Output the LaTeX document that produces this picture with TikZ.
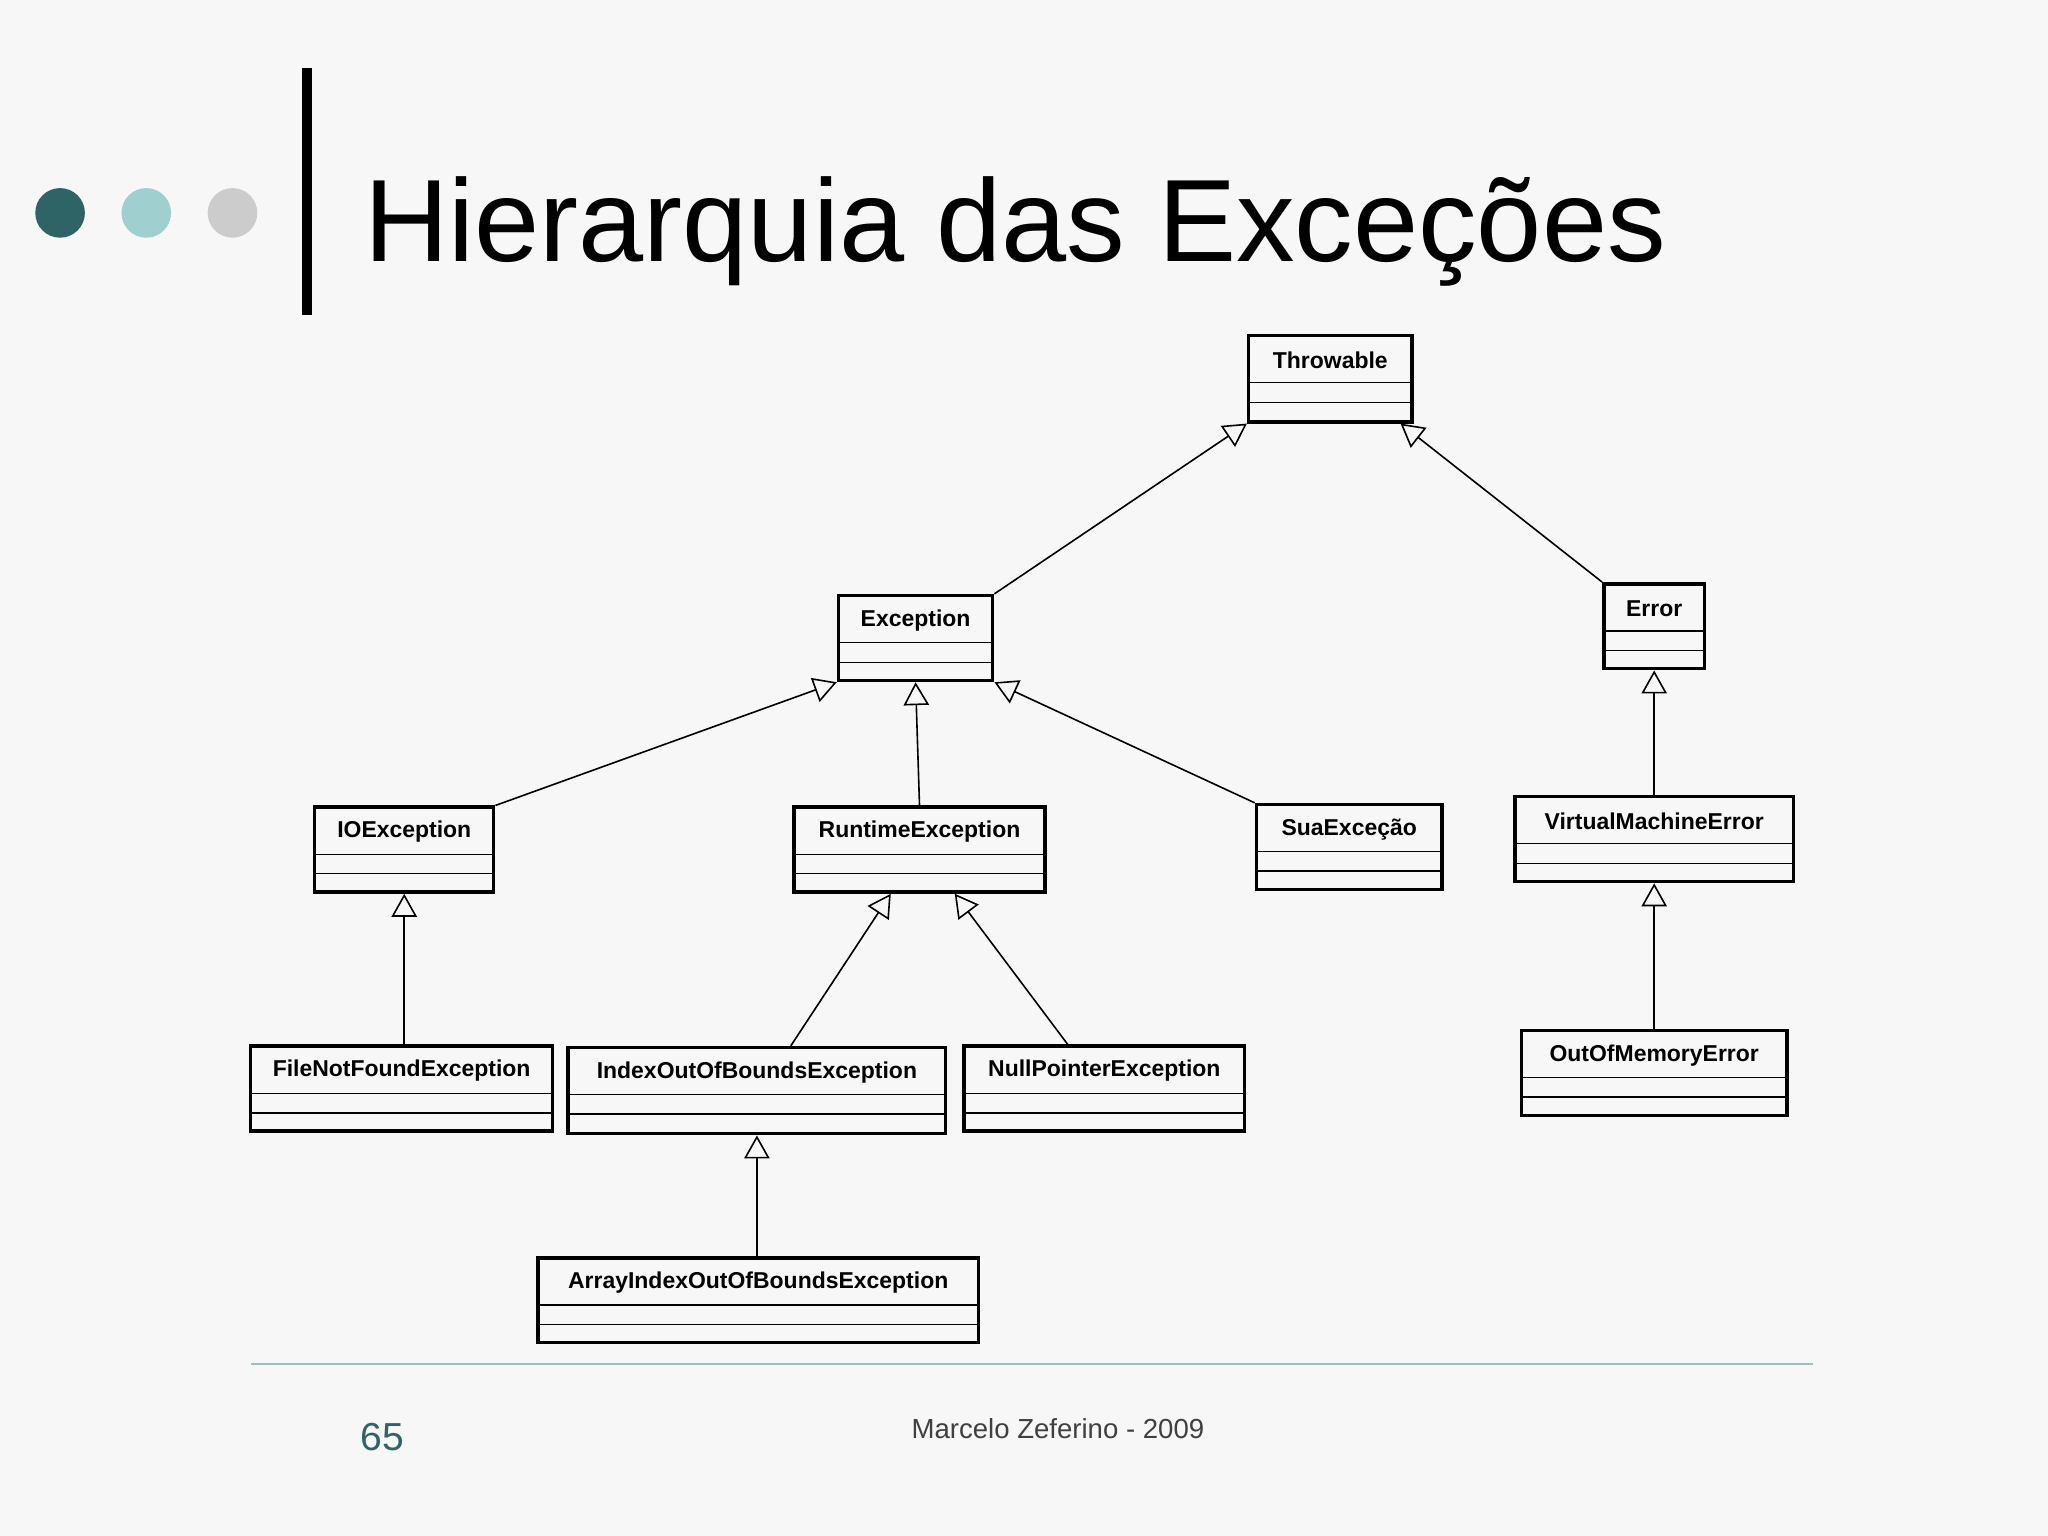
\documentclass[tikz,border=0pt]{standalone}
\usepackage{fontspec}
\setmainfont{Liberation Sans}
\usetikzlibrary{fit,calc,arrows.meta}
\definecolor{dteal}{HTML}{2F6466}
\definecolor{lteal}{HTML}{9FCFCF}
\definecolor{lgray}{HTML}{CCCCCC}
\definecolor{rulec}{HTML}{9DBFBF}
\newcommand\umlbox[6]{%
  \node[ubox, fit={(#2,#3)(#4,#5)}] (#1) {};
  \node[utext] (#1t) at ({(#2+#4)/2},{#3+19}) {#6};
  \draw[line width=0.3pt] (#2,{#3+36}) -- (#4,{#3+36});
  \draw[line width=0.3pt] (#2,{#3+51}) -- (#4,{#3+51});}
\begin{document}
\begin{tikzpicture}[x=0.01cm,y=-0.01cm,
  ubox/.style={draw,line width=0.75pt,inner sep=0pt},
  utext/.style={font=\bfseries\fontsize{5pt}{6pt}\selectfont,inner sep=0pt},
  gen/.style={line width=0.35pt,-{Triangle[open,length=5pt,width=5.5pt]}}]
\fill[white!97!black] (0,0) rectangle (1568,1176);
\useasboundingbox (0,0) rectangle (1568,1176);
\fill[dteal] (46,163) circle (19);
\fill[lteal] (112,163) circle (19);
\fill[lgray] (178,163) circle (19);
\draw[line width=2pt] (235,52) -- (235,241);
\node[anchor=base west,inner sep=0pt,font=\fontsize{25.5pt}{30pt}\selectfont] (title) at (278,200) {Hierarquia das Exceções};
\umlbox{thr}{956}{257}{1081}{323}{Throwable}
\umlbox{exc}{642}{456}{760}{521}{Exception}
\umlbox{err}{1228}{447}{1305}{512}{Error}
\umlbox{io}{241}{618}{378}{683}{IOException}
\umlbox{rt}{608}{618}{800}{683}{RuntimeException}
\umlbox{sua}{962}{616}{1104}{681}{SuaExceção}
\umlbox{vme}{1160}{610}{1373}{675}{VirtualMachineError}
\umlbox{fnf}{192}{801}{423}{866}{FileNotFoundException}
\umlbox{ioob}{435}{802}{724}{868}{IndexOutOfBoundsException}
\umlbox{np}{738}{801}{953}{866}{NullPointerException}
\umlbox{oom}{1165}{789}{1368}{854}{OutOfMemoryError}
\umlbox{aioob}{412}{963}{749}{1028}{ArrayIndexOutOfBoundsException}
\draw[gen] (exc.north east) -- (thr.south west);
\draw[gen] (err.north west) -- ($(thr.south east)+(-10,0)$);
\draw[gen] (io.north east) -- (exc.south west);
\draw[gen] (rt.north) -- (exc.south);
\draw[gen] (sua.north west) -- (exc.south east);
\draw[gen] (fnf.north -| io.south) -- (io.south);
\draw[gen] ($(ioob.north)+(26,0)$) -- ($(rt.south)+(-22,0)$);
\draw[gen] ($(np.north)+(-28,0)$) -- ($(rt.south)+(27,0)$);
\draw[gen] (aioob.north -| ioob.south) -- (ioob.south);
\draw[gen] (vme.north -| err.south) -- (err.south);
\draw[gen] (oom.north -| vme.south) -- (vme.south);
\draw[rulec,line width=0.4pt] (192,1044) coordinate (r1) -- (1388,1044) coordinate (r2);
\node[text=dteal,font=\fontsize{8.5pt}{10pt}\selectfont] (pg) at (293,1100) {65};
\node[text=black!75,font=\fontsize{6pt}{7pt}\selectfont] (auth) at (810,1094) {Marcelo Zeferino - 2009};
\end{tikzpicture}
\end{document}
